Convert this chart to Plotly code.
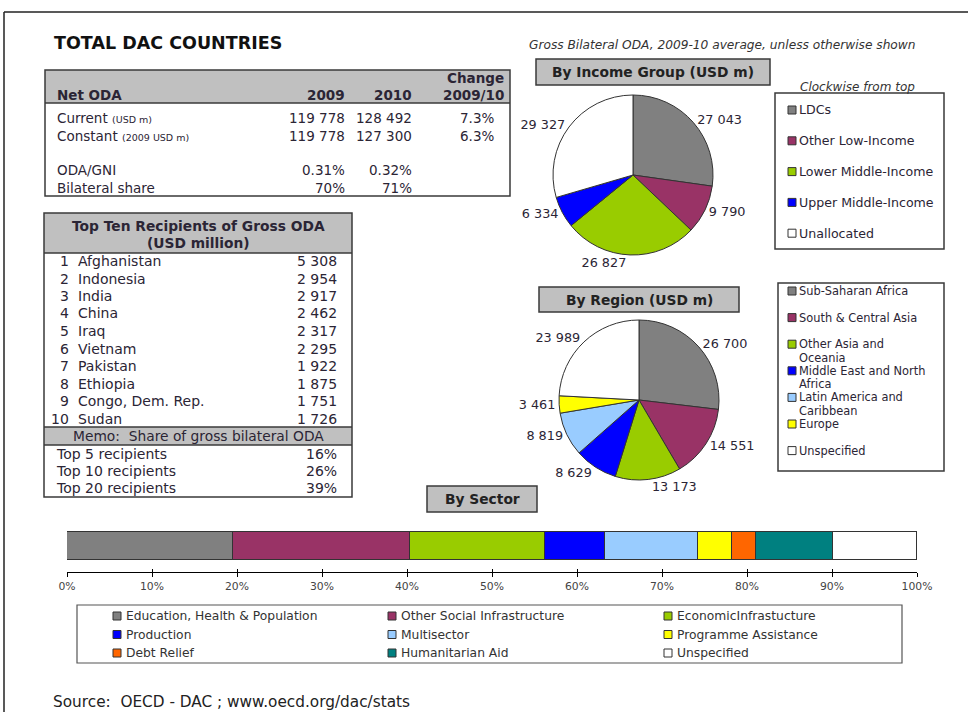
import textwrap
import plotly.graph_objects as go

W, H = 969, 713
FONT = "DejaVu Sans"
TXT = "#2b2535"
LINE = "#3a3a3a"
HDR = "#c0c0c0"

# ---------------- data ----------------
oda_years = ["2009", "2010"]
oda_current = [119778, 128492]
oda_constant = [119778, 127300]
oda_change = [7.3, 6.3]
oda_gni = [0.31, 0.32]
bilateral_share = [70, 71]

top_ten_countries = ["Afghanistan", "Indonesia", "India", "China", "Iraq",
                     "Vietnam", "Pakistan", "Ethiopia", "Congo, Dem. Rep.", "Sudan"]
top_ten_values = [5308, 2954, 2917, 2462, 2317, 2295, 1922, 1875, 1751, 1726]
memo_labels = ["Top 5 recipients", "Top 10 recipients", "Top 20 recipients"]
memo_shares = [16, 26, 39]

income_labels = ["LDCs", "Other Low-Income", "Lower Middle-Income",
                 "Upper Middle-Income", "Unallocated"]
income_values = [27043, 9790, 26827, 6334, 29327]
income_colors = ["#808080", "#993366", "#99cc00", "#0000ff", "#ffffff"]

region_labels = ["Sub-Saharan Africa", "South & Central Asia", "Other Asia and Oceania",
                 "Middle East and North Africa", "Latin America and Caribbean",
                 "Europe", "Unspecified"]
region_values = [26700, 14551, 13173, 8629, 8819, 3461, 23989]
region_colors = ["#808080", "#993366", "#99cc00", "#0000ff", "#99ccff", "#ffff00", "#ffffff"]

sector_labels = ["Education, Health & Population", "Other Social Infrastructure",
                 "EconomicInfrastucture", "Production", "Multisector",
                 "Programme Assistance", "Debt Relief", "Humanitarian Aid", "Unspecified"]
sector_shares = [19.5, 20.8, 15.9, 7.1, 10.9, 4.0, 2.9, 9.0, 9.9]
sector_colors = ["#808080", "#993366", "#99cc00", "#0000ff", "#99ccff",
                 "#ffff00", "#ff6600", "#008080", "#ffffff"]
sector_ticks = list(range(0, 101, 10))
sector_tick_text = [f"{t}%" for t in sector_ticks]


# ---------------- helpers ----------------
def X(x):
    return x / W


def Y(y):
    return 1 - y / H


def num(v):
    return f"{v:,}".replace(",", " ")


annotations = []
shapes = []


def txt(x, y, s, size=14, anchor="left", bold=False, italic=False, color=TXT, yanchor="middle"):
    if bold:
        s = f"<b>{s}</b>"
    if italic:
        s = f"<i>{s}</i>"
    annotations.append(dict(x=X(x), y=Y(y), xref="paper", yref="paper", text=s,
                            showarrow=False, xanchor=anchor, yanchor=yanchor,
                            align=anchor if anchor != "center" else "center",
                            font=dict(family=FONT, size=size, color=color)))


def rect(x0, y0, x1, y1, fill="rgba(0,0,0,0)", color=LINE, width=1.5):
    shapes.append(dict(type="rect", xref="paper", yref="paper",
                       x0=X(x0), x1=X(x1), y0=Y(y1), y1=Y(y0),
                       fillcolor=fill, line=dict(color=color, width=width), layer="below"))


def hline(x0, x1, y, color=LINE, width=1.5):
    shapes.append(dict(type="line", xref="paper", yref="paper",
                       x0=X(x0), x1=X(x1), y0=Y(y), y1=Y(y), line=dict(color=color, width=width)))


def vline(x, y0, y1, color=LINE, width=1.5):
    shapes.append(dict(type="line", xref="paper", yref="paper",
                       x0=X(x), x1=X(x), y0=Y(y0), y1=Y(y1), line=dict(color=color, width=width)))


# ---------------- frame & titles ----------------
hline(4, 968, 12, color="#222", width=1.5)
vline(4, 12, 712, color="#222", width=1.5)
txt(52, 43, "TOTAL DAC COUNTRIES", size=17.5, bold=True, color="#111")
txt(918, 45, "Gross Bilateral ODA, 2009-10 average, unless otherwise shown",
    size=12.2, anchor="right", italic=True, color="#333")

# ---------------- Net ODA table ----------------
rect(45, 70, 510, 103, fill=HDR, width=0)
rect(45, 70, 510, 196)
hline(45, 510, 103)
txt(55, 95, "Net ODA", size=13.5, bold=True)
txt(347, 95, oda_years[0], size=13.5, bold=True, anchor="right")
txt(414, 95, oda_years[1], size=13.5, bold=True, anchor="right")
txt(506, 78, "Change", size=13.5, bold=True, anchor="right")
txt(506, 95, f"{oda_years[0]}/{oda_years[1][2:]}", size=13.5, bold=True, anchor="right")

small = "<span style='font-size:9.5px'>"
rows = [
    ("Current " + small + "(USD m)</span>", [num(v) for v in oda_current], f"{oda_change[0]}%", 118),
    ("Constant " + small + "(2009 USD m)</span>", [num(v) for v in oda_constant], f"{oda_change[1]}%", 136),
    ("ODA/GNI", [f"{v:.2f}%" for v in oda_gni], "", 170),
    ("Bilateral share", [f"{v}%" for v in bilateral_share], "", 188),
]
for label, vals, chg, yy in rows:
    txt(55, yy, label, size=13.5)
    txt(347, yy, vals[0], size=13.5, anchor="right")
    txt(414, yy, vals[1], size=13.5, anchor="right")
    if chg:
        txt(496, yy, chg, size=13.5, anchor="right")

# ---------------- Top ten table ----------------
rect(44, 213, 352, 253, fill=HDR, width=0)
rect(44, 427, 352, 445, fill=HDR, width=0)
rect(44, 213, 352, 497)
hline(44, 352, 253)
hline(44, 352, 427)
hline(44, 352, 445)
txt(198, 226, "Top Ten Recipients of Gross ODA", size=13.8, bold=True, anchor="center")
txt(198, 243, "(USD million)", size=13.8, bold=True, anchor="center")
for i, (c, v) in enumerate(zip(top_ten_countries, top_ten_values)):
    yy = 261 + i * 17.5
    txt(71, yy, str(i + 1), size=14, anchor="right")
    txt(76, yy, c, size=14)
    txt(339, yy, num(v), size=14, anchor="right")
txt(198, 436, "Memo:  Share of gross bilateral ODA", size=13.8, anchor="center")
for i, (lab, s) in enumerate(zip(memo_labels, memo_shares)):
    yy = 454 + i * 17
    txt(54, yy, lab, size=14)
    txt(339, yy, f"{s}%", size=14, anchor="right")

# ---------------- section headers ----------------
rect(536, 59, 770, 85, fill=HDR, width=1.5)
txt(653, 72, "By Income Group (USD m)", size=13.8, bold=True, anchor="center", color="#222")
rect(539, 287, 739, 312, fill=HDR, width=1.5)
txt(639, 300, "By Region (USD m)", size=13.8, bold=True, anchor="center", color="#222")
rect(427, 486, 537, 512, fill=HDR, width=1.5)
txt(482, 499, "By Sector", size=13.8, bold=True, anchor="center", color="#222")

# ---------------- legends ----------------
def swatch(x, y, color):
    shapes.append(dict(type="rect", xref="paper", yref="paper",
                       x0=X(x), x1=X(x + 8), y0=Y(y + 4), y1=Y(y - 4),
                       fillcolor=color, line=dict(color="#333", width=1)))


txt(857, 87, "Clockwise from top", size=12, anchor="center", italic=True, color="#333")
rect(775, 93, 944, 249, fill="white")
for i, (lab, col) in enumerate(zip(income_labels, income_colors)):
    yy = 110 + i * 30.8
    swatch(788, yy, col)
    txt(797, yy, lab, size=12.6)

rect(778, 283, 944, 471, fill="white")
for i, (lab, col) in enumerate(zip(region_labels, region_colors)):
    yy = 291 + i * 26.6
    swatch(788, yy, col)
    for j, part in enumerate(textwrap.wrap(lab, 21)):
        txt(797, yy + j * 13.3, part, size=11.4)

rect(77, 605, 902, 663, fill="white", color="#555", width=1.2)
col_swatch = [113, 388, 664]
for i, (lab, col) in enumerate(zip(sector_labels, sector_colors)):
    cx = col_swatch[i % 3]
    yy = 616 + (i // 3) * 18.5
    swatch(cx, yy, col)
    txt(cx + 11, yy, lab, size=12.3, color="#333")

txt(51, 702, "Source:  OECD - DAC ; www.oecd.org/dac/stats", size=15.3, color="#222")

# ---------------- charts ----------------
fig = go.Figure()

fig.add_trace(go.Pie(
    labels=income_labels, values=income_values, sort=False, direction="clockwise", rotation=0,
    marker=dict(colors=income_colors, line=dict(color="#333", width=1)),
    textposition="outside", texttemplate="%{value:,}", automargin=False,
    textfont=dict(family=FONT, size=12.8, color=TXT),
    domain=dict(x=[X(553), X(713)], y=[Y(255), Y(95)]),
    showlegend=False, hoverinfo="label+value"))

fig.add_trace(go.Pie(
    labels=region_labels, values=region_values, sort=False, direction="clockwise", rotation=0,
    marker=dict(colors=region_colors, line=dict(color="#333", width=1)),
    textposition="outside", texttemplate="%{value:,}", automargin=False,
    textfont=dict(family=FONT, size=12.8, color=TXT),
    domain=dict(x=[X(559), X(719)], y=[Y(480), Y(320)]),
    showlegend=False, hoverinfo="label+value"))

for lab, share, col in zip(sector_labels, sector_shares, sector_colors):
    fig.add_trace(go.Bar(
        x=[share], y=[0], orientation="h", name=lab, width=1,
        marker=dict(color=col, line=dict(color="#333", width=1)),
        showlegend=False, hovertemplate=lab + ": %{x}%<extra></extra>"))

axis_common = dict(domain=[X(67), X(917)], range=[0, 100], tickvals=sector_ticks,
                   tickcolor="#000", showgrid=False, zeroline=False, fixedrange=True,
                   automargin=False)

fig.update_layout(
    width=W, height=H, margin=dict(l=0, r=0, t=0, b=0, pad=0, autoexpand=False), autosize=False,
    paper_bgcolor="white", plot_bgcolor="rgba(0,0,0,0)",
    separators=". ", barmode="stack", bargap=0,
    font=dict(family=FONT, color=TXT),
    xaxis=dict(**axis_common, ticktext=sector_tick_text, ticks="outside", ticklen=4,
               showline=True, linecolor="#000", linewidth=1.2,
               tickfont=dict(family=FONT, size=10.8, color="#444")),
    xaxis2=dict(**axis_common, overlaying="x", anchor="y", side="bottom",
                ticks="inside", ticklen=3, showticklabels=False, showline=False),
    yaxis=dict(domain=[Y(572), Y(529.2)], range=[-0.93, 0.6], visible=False,
               fixedrange=True, automargin=False),
    annotations=annotations, shapes=shapes,
)
# invisible trace to activate the overlay tick axis
fig.add_trace(go.Scatter(x=[0, 100], y=[0, 0], xaxis="x2", yaxis="y", mode="markers",
                         marker=dict(opacity=0), showlegend=False, hoverinfo="skip"))

page_fix = (
    "document.documentElement.style.margin='0';"
    "document.documentElement.style.overflow='hidden';"
    "document.body.style.margin='0';document.body.style.overflow='hidden';"
    "var gd=document.getElementById('{plot_id}');"
    "gd.style.position='fixed';gd.style.left='0px';gd.style.top='0px';"
)
fig.write_html("out.html", config={"responsive": False, "displayModeBar": False},
               post_script=page_fix)
